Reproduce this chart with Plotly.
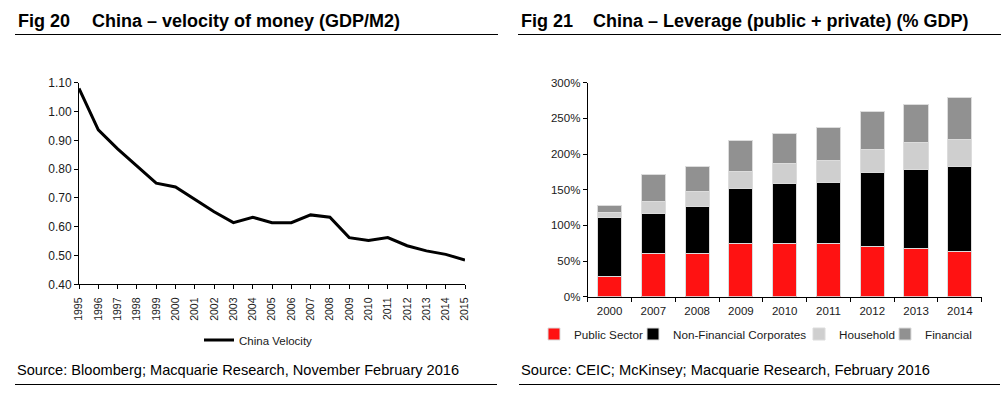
import plotly.graph_objects as go

# ---- Fig 20 data ----
years = list(range(1995, 2016))
velocity = [1.08, 0.936, 0.87, 0.81, 0.751, 0.738, 0.694, 0.652, 0.614, 0.633, 0.614,
            0.614, 0.641, 0.633, 0.562, 0.552, 0.562, 0.534, 0.516, 0.504, 0.484]

# ---- Fig 21 data ----
lev_years = ["2000", "2007", "2008", "2009", "2010", "2011", "2012", "2013", "2014"]
public_sector = [29, 61, 61, 74, 75, 74, 71, 67, 63]
non_fin_corp = [82, 55, 66, 77, 83, 85.5, 103, 111, 120]
household = [7.6, 18, 20, 24, 29, 31, 33, 38, 37.5]
financial = [9, 38, 36, 43.5, 41.5, 47, 52, 54, 59]

W, H = 1007, 393
FONT = "Liberation Sans, Arial, sans-serif"

def px(x):
    return x / W

def py(y):
    return 1 - y / H

fig = go.Figure()

fig.add_trace(go.Scatter(
    x=years, y=velocity, mode="lines", name="China Velocity",
    line=dict(color="black", width=3), xaxis="x", yaxis="y", legend="legend",
))

bar_line = dict(color="#dcdcdc", width=1)
series = [("Public Sector", public_sector, "#ff1212", "legend2", 534),
          ("Non-Financial Corporates", non_fin_corp, "#000000", "legend3", 633),
          ("Household", household, "#cfcfcf", "legend4", 799),
          ("Financial", financial, "#919191", "legend5", 885)]
for name, vals, col, leg, _ in series:
    fig.add_trace(go.Bar(
        x=lev_years, y=vals, name=name, marker=dict(color=col, line=bar_line),
        xaxis="x2", yaxis="y2", legend=leg,
    ))

axis_common = dict(showline=True, linecolor="black", linewidth=1, showgrid=False,
                   zeroline=False, ticks="outside", tickcolor="black", ticklen=4)

def tf(size):
    return dict(family=FONT, size=size, color="#1a1a1a")

fig.update_layout(
    width=W, height=H,
    margin=dict(l=0, r=0, t=0, b=0, autoexpand=False),
    paper_bgcolor="white", plot_bgcolor="white",
    barmode="stack", bargap=0.45,
    font=dict(family=FONT, color="black"),
    xaxis=dict(domain=[px(79), px(465)], anchor="y", range=[1995, 2015],
               tickmode="linear", dtick=1, tickangle=-90, tickfont=tf(10.5),
               ticklabelstandoff=4, **axis_common),
    yaxis=dict(domain=[py(284.3), py(82.7)], anchor="x", range=[0.40, 1.10],
               dtick=0.1, tickformat=".2f", tickfont=tf(12), **axis_common),
    xaxis2=dict(domain=[px(587.7), px(981.7)], anchor="y2", type="category",
                range=[-0.5, 8.5], tickson="boundaries", tickfont=tf(11.5),
                ticklabelstandoff=3, **axis_common),
    yaxis2=dict(domain=[py(296.7), py(82.7)], anchor="x2", range=[0, 300],
                dtick=50, ticksuffix="%", tickfont=tf(11.5), **axis_common),
    showlegend=True,
)

leg_common = dict(orientation="h", xanchor="left", yanchor="middle",
                  bgcolor="rgba(0,0,0,0)", itemwidth=30)
fig.update_layout(legend=dict(x=px(199), y=py(340), font=tf(11.5), **leg_common))
for name, vals, col, leg, xpos in series:
    fig.update_layout({leg: dict(x=px(xpos), y=py(334), font=tf(11.7), **leg_common)})

annotations = [
    dict(text="<b>Fig 20</b>", x=px(16), y=py(21), size=18),
    dict(text="<b>China – velocity of money (GDP/M2)</b>", x=px(90), y=py(21), size=18),
    dict(text="<b>Fig 21</b>", x=px(519), y=py(21), size=18),
    dict(text="<b>China – Leverage (public + private) (% GDP)</b>", x=px(591), y=py(21), size=18),
    dict(text="Source: Bloomberg; Macquarie Research, November February 2016", x=px(15),
         y=py(370), size=14.6),
    dict(text="Source: CEIC; McKinsey; Macquarie Research, February 2016", x=px(519),
         y=py(370), size=14.7),
]
anns = []
for a in annotations:
    anns.append(dict(text=a["text"], x=a["x"], y=a["y"], xref="paper", yref="paper",
                     xanchor="left", yanchor="middle", showarrow=False,
                     font=dict(family=FONT, color="black", size=a["size"])))
fig.update_layout(annotations=anns)

shapes = []
for (x0, x1, y) in [(15, 498, 34.5), (518, 1001, 34.5), (15, 497, 384.5), (519, 1000, 384.5)]:
    shapes.append(dict(type="line", xref="paper", yref="paper", x0=px(x0), x1=px(x1),
                       y0=py(y), y1=py(y), line=dict(color="black", width=1.2)))
fig.update_layout(shapes=shapes)

fig.write_html("out.html", config={"displayModeBar": False},
               post_script="document.body.style.margin='0';")
